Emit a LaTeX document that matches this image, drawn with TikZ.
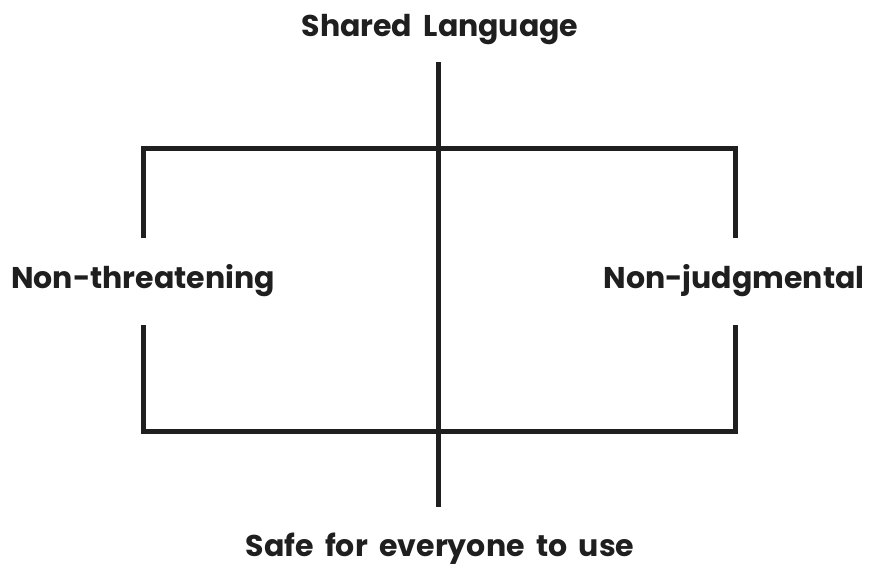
\documentclass[tikz,border=0pt]{standalone}
\usepackage{fontspec}
\setmainfont{Poppins}[WordSpace=1.8]
\begin{document}
\begin{tikzpicture}[x=1pt,y=-1pt,
  ln/.style={line width=5pt,color=black!88},
  lbl/.style={font=\fontsize{30}{32}\selectfont\bfseries,text=black!88,inner sep=0pt,anchor=base}]
\useasboundingbox (0,0) rectangle (869,567);
\node[lbl] (top) at (440,37) {Shared Language};
\node[lbl] (bot) at (440,556) {Safe for everyone to use};
\node[lbl] (left) at (143,288) {Non-threatening};
\node[lbl] (right) at (734,288) {Non-judgmental};
\coordinate (ct) at (438,62);
\coordinate (cb) at (438,507);
\coordinate (tl) at (143,148);
\coordinate (tr) at (735,148);
\coordinate (bl) at (143,431);
\coordinate (br) at (735,431);
\coordinate (lu) at (143,238);
\coordinate (ll) at (143,325);
\coordinate (ru) at (735,238);
\coordinate (rl) at (735,325);
\draw[ln] (ct) -- (cb);
\draw[ln] (lu) -- (tl) -- (tr) -- (ru);
\draw[ln] (ll) -- (bl) -- (br) -- (rl);
\end{tikzpicture}
\end{document}
